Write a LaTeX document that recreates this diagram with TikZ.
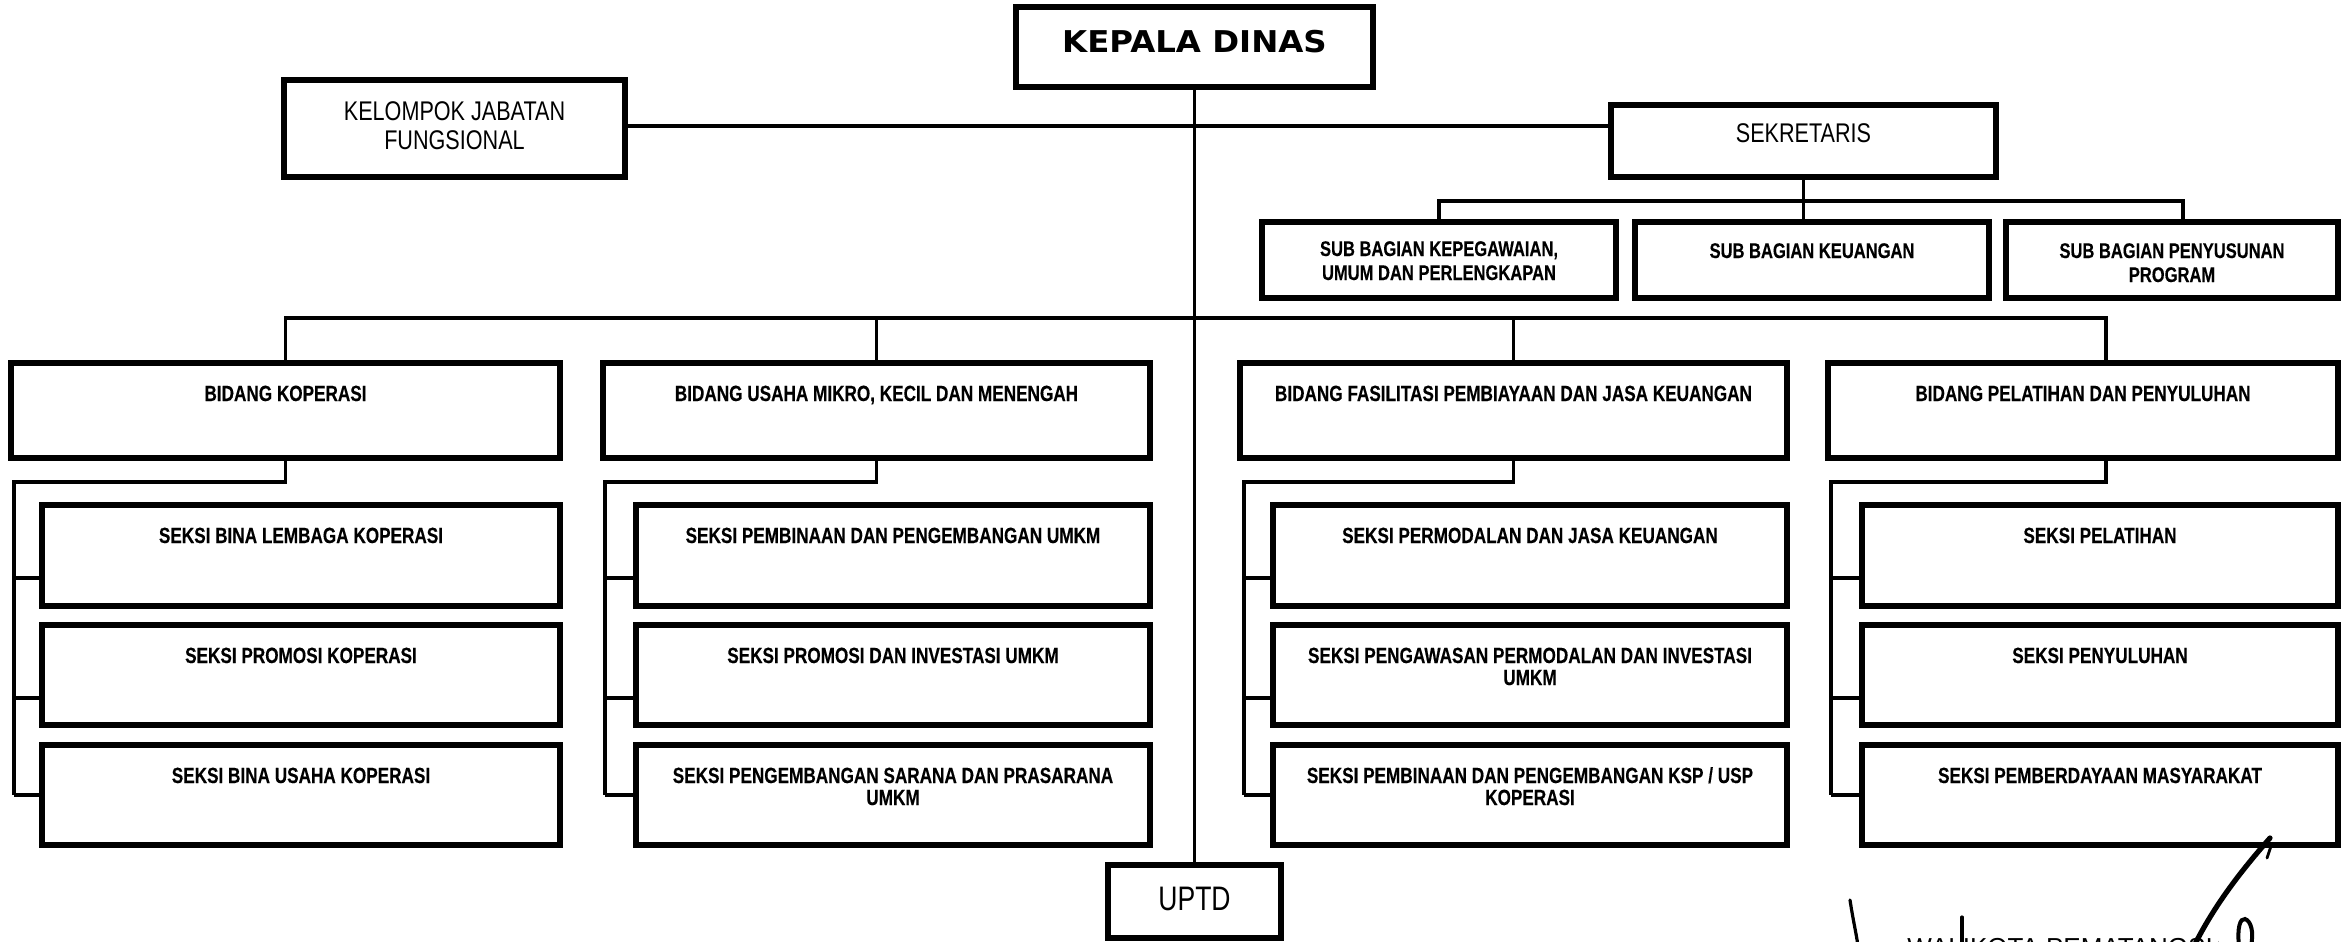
\documentclass[tikz,border=0pt]{standalone}
\usepackage{fontspec}
\setmainfont{Liberation Sans}
\newfontfamily\nb[FakeStretch=0.78,FakeBold=0.3]{Liberation Sans}
\newfontfamily\nreg[FakeStretch=0.8]{Liberation Sans}
\newfontfamily\ureg[FakeStretch=0.78]{Liberation Sans}
\newfontfamily\kepf[FakeStretch=1.08]{DejaVu Sans}
\newcommand\tl[1]{\begin{tabular}[t]{@{}c@{}}#1\end{tabular}}
% name, x1, y1, x2, y2, baseline offset (px), text style, text
\newcommand\obox[8]{%
  \node[box, minimum width={(#4-#2)*0.5pt}, minimum height={(#5-#3)*0.5pt}, anchor=north west] (#1) at (#2,#3) {};
  \node[#7, anchor=base] (#1t) at ([yshift=-#6*0.5pt]#1.north) {\tl{#8}};}
\tikzset{
  box/.style={draw, rectangle, line width=2.8pt, inner sep=0pt, outer sep=0pt},
  con/.style={line width=1.6pt},
  bt/.style={inner sep=0pt, outer sep=0pt, font=\nb\bfseries\fontsize{11}{11}\selectfont},
  sbt/.style={inner sep=0pt, outer sep=0pt, font=\nb\bfseries\fontsize{10.6}{12}\selectfont},
  rt/.style={inner sep=0pt, outer sep=0pt, font=\nreg\fontsize{13.5}{14.5}\selectfont},
  ut/.style={inner sep=0pt, outer sep=0pt, font=\ureg\fontsize{17}{18}\selectfont},
  kt/.style={inner sep=0pt, outer sep=0pt, font=\kepf\bfseries\fontsize{15}{16}\selectfont},
  sig/.style={line width=1.6pt, line cap=round}
}
\begin{document}
\begin{tikzpicture}[x=0.5pt, y=-0.5pt]
\useasboundingbox (0,0) rectangle (2345,942);
% top level
\obox{kep}{1016}{7}{1373}{87}{46}{kt}{KEPALA DINAS}
\obox{kjf}{284}{80}{625}{177}{40}{rt}{KELOMPOK JABATAN\\FUNGSIONAL}
\obox{sek}{1611}{105}{1996}{177}{37}{rt}{SEKRETARIS}
\obox{sb1}{1262}{222}{1616}{298}{34}{sbt}{SUB BAGIAN KEPEGAWAIAN,\\UMUM DAN PERLENGKAPAN}
\obox{sb2}{1635}{222}{1989}{298}{36}{sbt}{SUB BAGIAN KEUANGAN}
\obox{sb3}{2006}{222}{2338}{298}{36}{sbt}{SUB BAGIAN PENYUSUNAN\\PROGRAM}
% bidang
\obox{b1}{11}{363}{560}{458}{38}{bt}{BIDANG KOPERASI}
\obox{b2}{603}{363}{1150}{458}{38}{bt}{BIDANG USAHA MIKRO, KECIL DAN MENENGAH}
\obox{b3}{1240}{363}{1787}{458}{38}{bt}{BIDANG FASILITASI PEMBIAYAAN DAN JASA KEUANGAN}
\obox{b4}{1828}{363}{2338}{458}{38}{bt}{BIDANG PELATIHAN DAN PENYULUHAN}
% seksi
\obox{s11}{42}{505}{560}{606}{38}{bt}{SEKSI BINA LEMBAGA KOPERASI}
\obox{s12}{42}{625}{560}{725}{38}{bt}{SEKSI PROMOSI KOPERASI}
\obox{s13}{42}{745}{560}{845}{38}{bt}{SEKSI BINA USAHA KOPERASI}
\obox{s21}{636}{505}{1150}{606}{38}{bt}{SEKSI PEMBINAAN DAN PENGEMBANGAN UMKM}
\obox{s22}{636}{625}{1150}{725}{38}{bt}{SEKSI PROMOSI DAN INVESTASI UMKM}
\obox{s23}{636}{745}{1150}{845}{38}{bt}{SEKSI PENGEMBANGAN SARANA DAN PRASARANA\\UMKM}
\obox{s31}{1273}{505}{1787}{606}{38}{bt}{SEKSI PERMODALAN DAN JASA KEUANGAN}
\obox{s32}{1273}{625}{1787}{725}{38}{bt}{SEKSI PENGAWASAN PERMODALAN DAN INVESTASI\\UMKM}
\obox{s33}{1273}{745}{1787}{845}{38}{bt}{SEKSI PEMBINAAN DAN PENGEMBANGAN KSP / USP\\KOPERASI}
\obox{s41}{1862}{505}{2338}{606}{38}{bt}{SEKSI PELATIHAN}
\obox{s42}{1862}{625}{2338}{725}{38}{bt}{SEKSI PENYULUHAN}
\obox{s43}{1862}{745}{2338}{845}{38}{bt}{SEKSI PEMBERDAYAAN MASYARAKAT}
\obox{uptd}{1108}{865}{1281}{938}{45}{ut}{UPTD}
% junction levels
\coordinate (hk) at (0,126);
\coordinate (hs) at (0,201);
\coordinate (hb) at (0,318);
\coordinate (hsub) at (0,482);
\coordinate (v1) at (14,0);
\coordinate (v2) at (605,0);
\coordinate (v3) at (1244,0);
\coordinate (v4) at (1831,0);
% connectors
\draw[con] (kjf.east |- hk) -- (sek.west |- hk);
\draw[con] (kep.south) -- (uptd.north);
\draw[con] (sek.south) -- (sek.south |- sb2.north);
\coordinate (sb3c) at ([xshift=5.5pt]sb3.north);
\draw[con] (sb1.north) -- (sb1.north |- hs) -- (sb3c |- hs) -- (sb3c);
\coordinate (b4c) at ([xshift=11.5pt]b4.north);
\draw[con] (b1.north) -- (b1.north |- hb) -- (b4c |- hb) -- (b4c);
\draw[con] (b2.north) -- (b2.north |- hb);
\draw[con] (b3.north) -- (b3.north |- hb);
\foreach \b/\dx in {1/0, 2/0, 3/0, 4/11.5} {
  \coordinate (d\b) at ([xshift=\dx pt]b\b.south);
  \coordinate (p\b1) at ([yshift=-11.25pt]s\b1.west);
  \coordinate (p\b2) at ([yshift=-11.5pt]s\b2.west);
  \draw[con] (d\b) -- (d\b |- hsub) -- (v\b |- hsub) -- (v\b |- s\b3.west);
  \draw[con] (v\b |- p\b1) -- (p\b1);
  \draw[con] (v\b |- p\b2) -- (p\b2);
  \draw[con] (v\b |- s\b3.west) -- (s\b3.west);
}
% signature fragments (cut off at the bottom edge)
\draw[sig, line width=2.6pt] (2270,838) .. controls (2240,872) and (2214,906) .. (2194,946);
\draw[sig, line width=1.4pt] (2271,846) -- (2267,858);
\draw[sig] (1850,900) .. controls (1853,920) and (1856,932) .. (1858,946);
\draw[sig] (1962,917) -- (1962,946);
\draw[sig, line width=2pt] (2239,946) .. controls (2237,928) and (2240,918) .. (2245,919) .. controls (2251,921) and (2254,932) .. (2251,946);
\begin{scope}
\clip (1900,930) rectangle (2218,942);
\node[anchor=north west, inner sep=0pt, font=\fontsize{13}{13}\selectfont] (wk) at (1907,937.5) {WALIKOTA PEMATANGSIANTAR};
\end{scope}
\end{tikzpicture}
\end{document}
